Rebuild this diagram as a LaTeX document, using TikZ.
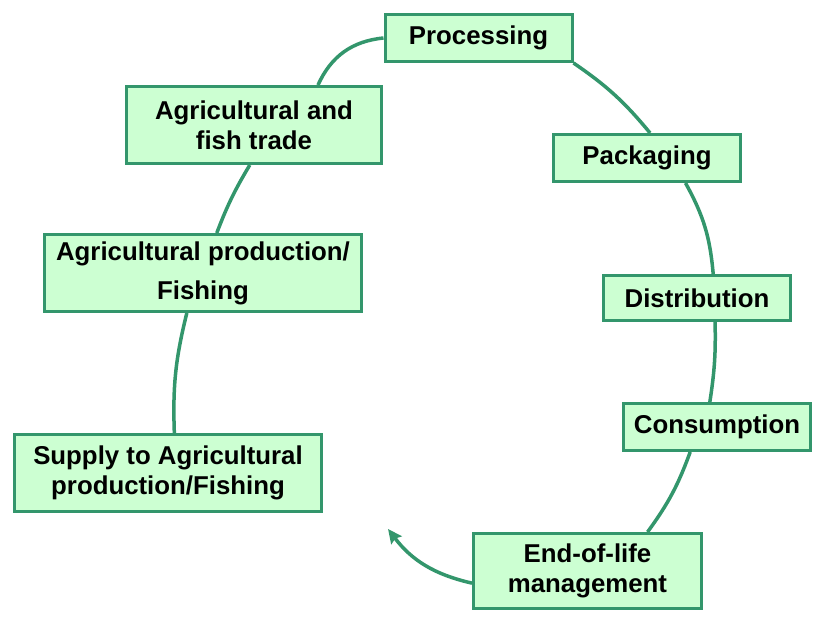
\documentclass[tikz,border=0pt]{standalone}
\usepackage{fontspec}
\setmainfont{Liberation Sans}
\usetikzlibrary{arrows.meta}

\begin{document}
\begin{tikzpicture}[
    x=1pt, y=1pt,                    % 1 drawing unit = 1 px of the layout
    >={Stealth[length=14pt,width=13pt,inset=2pt]},
    font=\bfseries\fontsize{25.8}{30}\selectfont,
    stage/.style={draw=leafE,fill=leaf,line width=3pt,align=center,inner sep=0pt,
                  minimum width=187pt,minimum height=47pt},
    flow/.style={leafE,line width=3.5pt},
  ]
  \definecolor{leaf}{RGB}{204,255,210}
  \definecolor{leafE}{RGB}{51,150,108}

  \useasboundingbox (0,0) rectangle (825,621);

  %% ---------------- stages ----------------
  \node[stage] (proc) at (478.5,583) {Processing};
  \node[stage,minimum width=255pt,minimum height=77pt] (trade) at (254,496)
       {Agricultural and\\ fish trade};
  \node[stage] (pack) at (647,463) {Packaging};
  \node[stage,minimum width=317pt,minimum height=77pt] (prod) at (203,348)
       {Agricultural production/\\[9pt] Fishing};
  \node[stage,minimum height=45pt] (dist) at (697,323) {Distribution};
  \node[stage] (cons) at (717,194) {Consumption};
  \node[stage,minimum width=307pt,minimum height=77pt] (supply) at (168,148)
       {Supply to Agricultural\\ production/Fishing};
  \node[stage,minimum width=228pt,minimum height=75pt] (eol) at (587.5,50)
       {End-of-life\\ management};
  \coordinate (back) at (388,92);

  %% ---------------- cycle ----------------
  \draw[flow] (proc.west) to[bend right=30] (trade.32);
  \draw[flow] (trade.-96) to[bend right=5] (prod.71);
  \draw[flow] (prod.-112) to[bend right=8] (supply.81);
  \draw[flow] (proc.south east) to[bend left=8] (pack.83);
  \draw[flow] (pack.-33) to[bend left=12] (dist.56);
  \draw[flow] (dist.-53) to[bend left=5] (cons.106);
  \draw[flow] (cons.-137) to[bend left=8] (eol.33);
  \draw[flow,->] (eol.186) to[bend left=20] (back);
\end{tikzpicture}
\end{document}
